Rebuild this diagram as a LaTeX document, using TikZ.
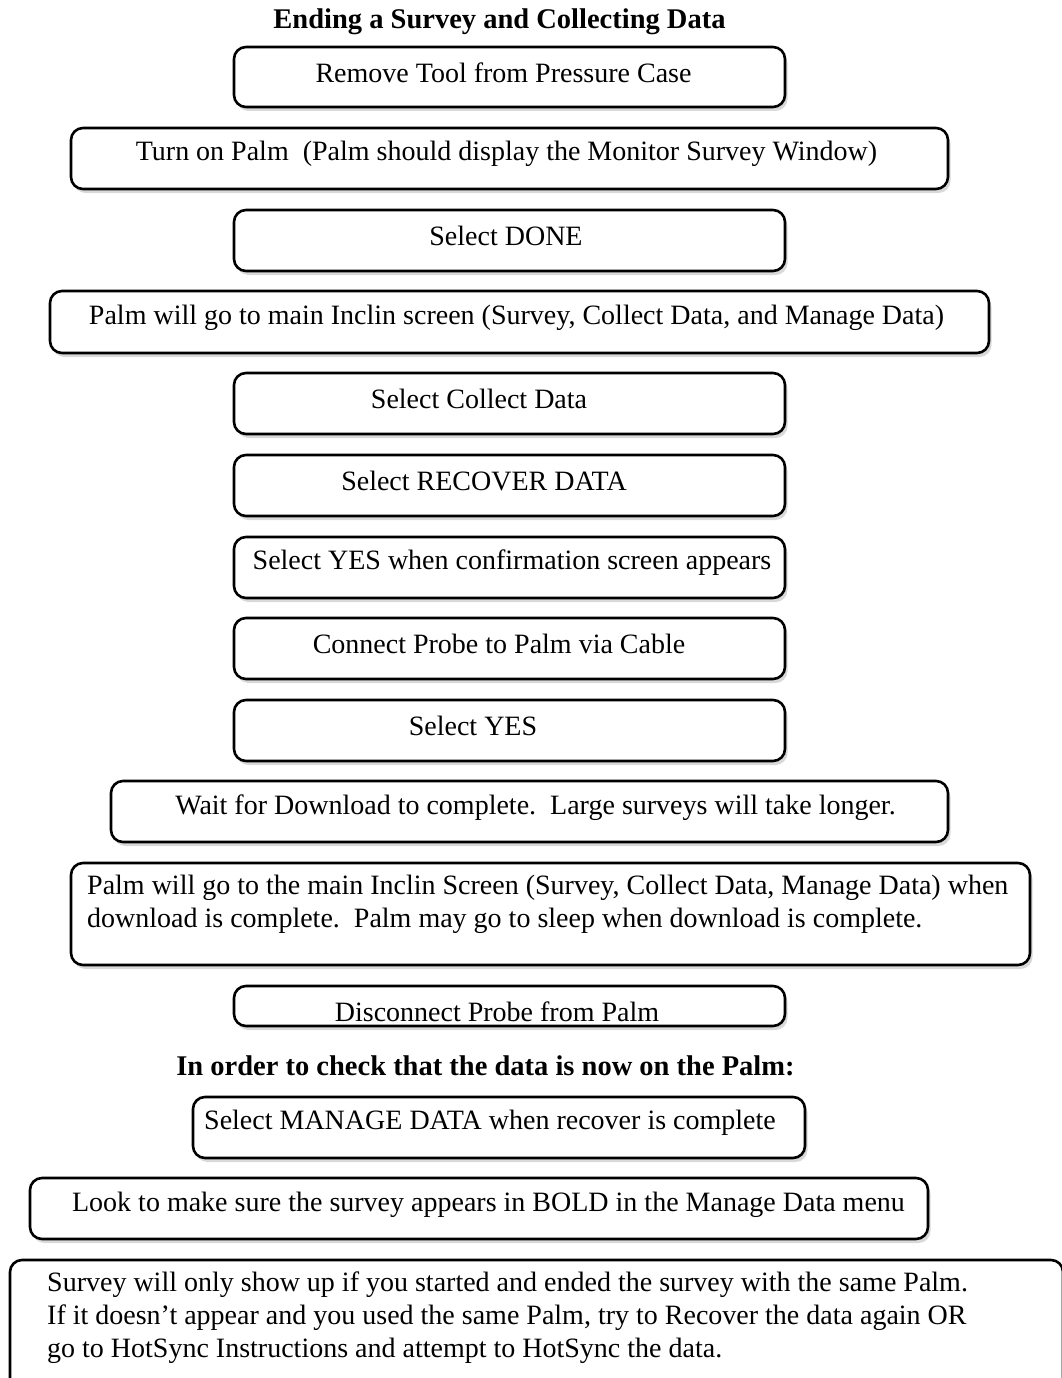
\documentclass[tikz,border=0pt]{standalone}
\usepackage{tikz}
\usepackage{fontspec}
\setmainfont{Liberation Serif}
\usetikzlibrary{shadows}

\tikzset{
  stepbox/.style={draw, line width=2.6pt, rounded corners=12pt, fill=white,
    drop shadow={shadow xshift=2.5pt, shadow yshift=-4pt, opacity=0.3}},
  steptext/.style={inner sep=0pt, font=\fontsize{28}{33}\selectfont},
  headtext/.style={inner sep=0pt, font=\fontsize{28.5}{33}\selectfont\bfseries}
}

\begin{document}
\begin{tikzpicture}[x=1pt, y=-1pt]

  \useasboundingbox (0,0) rectangle (1061,1378);

  %% Title.
  \node[headtext] (title) at (499.5,22) {Ending a Survey and Collecting Data};

  %% The step boxes:
  \node[stepbox, minimum width=551pt, minimum height=60pt] (remove) at (509.5,77) {};
  \node[steptext] (removetext) at (503.5,73) {Remove Tool from Pressure Case};

  \node[stepbox, minimum width=877pt, minimum height=61pt] (turnon) at (509.5,158.5) {};
  \node[steptext] (turnontext) at (506.5,154)
  {Turn on Palm\ \ (Palm should display the Monitor Survey Window)};

  \node[stepbox, minimum width=551pt, minimum height=61pt] (done) at (509.5,240.5) {};
  \node[steptext] (donetext) at (506,236) {Select DONE};

  \node[stepbox, minimum width=939pt, minimum height=62pt] (mainscr) at (519.5,322) {};
  \node[steptext] (mainscrtext) at (516.5,318)
  {Palm will go to main Inclin screen (Survey, Collect Data, and Manage Data)};

  \node[stepbox, minimum width=551pt, minimum height=61pt] (collect) at (509.5,403.5) {};
  \node[steptext] (collecttext) at (479,399) {Select Collect Data};

  \node[stepbox, minimum width=551pt, minimum height=61pt] (recover) at (509.5,485.5) {};
  \node[steptext] (recovertext) at (484,481) {Select RECOVER DATA};

  \node[stepbox, minimum width=551pt, minimum height=61pt] (confirm) at (509.5,567.5) {};
  \node[steptext] (confirmtext) at (512,563) {Select YES when confirmation screen appears};

  \node[stepbox, minimum width=551pt, minimum height=61pt] (connect) at (509.5,648.5) {};
  \node[steptext] (connecttext) at (499,644) {Connect Probe to Palm via Cable};

  \node[stepbox, minimum width=551pt, minimum height=61pt] (yes) at (509.5,730.5) {};
  \node[steptext] (yestext) at (473,726) {Select YES};

  \node[stepbox, minimum width=837pt, minimum height=61pt] (wait) at (529.5,811.5) {};
  \node[steptext] (waittext) at (535.5,808)
  {Wait for Download to complete.\ \ Large surveys will take longer.};

  \node[stepbox, minimum width=959pt, minimum height=102pt] (sleep) at (550.5,914) {};
  \node[steptext, anchor=west, align=left] (sleeptext) at (87,904.5)
  {Palm will go to the main Inclin Screen (Survey, Collect Data, Manage Data) when\\
   download is complete.\ \ Palm may go to sleep when download is complete.};

  \node[stepbox, minimum width=551pt, minimum height=40pt] (disconnect) at (509.5,1006) {};
  \node[steptext] (disconnecttext) at (497,1012) {Disconnect Probe from Palm};

  %% Check that the data is on the Palm:
  \node[headtext] (check) at (485.5,1066)
  {In order to check that the data is now on the Palm:};

  \node[stepbox, minimum width=612pt, minimum height=61pt] (manage) at (499,1127.5) {};
  \node[steptext] (managetext) at (490,1123) {Select MANAGE DATA when recover is complete};

  \node[stepbox, minimum width=898pt, minimum height=61pt] (look) at (479,1208.5) {};
  \node[steptext] (looktext) at (488.5,1205)
  {Look to make sure the survey appears in BOLD in the Manage Data menu};

  \node[stepbox, minimum width=1053pt, minimum height=140pt] (samepalm) at (536.5,1330) {};
  \node[steptext, anchor=west, align=left] (samepalmtext) at (47,1318)
  {Survey will only show up if you started and ended the survey with the same Palm.\\
   If it doesn't appear and you used the same Palm, try to Recover the data again OR\\
   go to HotSync Instructions and attempt to HotSync the data.};

\end{tikzpicture}
\end{document}
